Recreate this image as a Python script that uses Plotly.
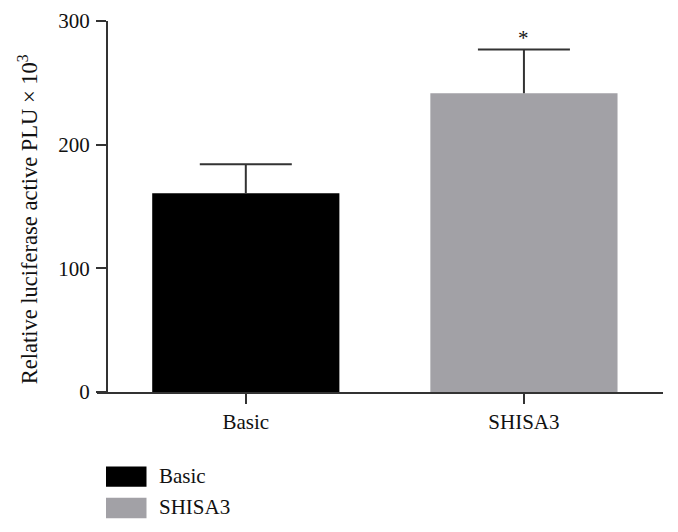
import plotly.graph_objects as go

categories = ["Basic", "SHISA3"]
values = [160.7, 241.6]
errors = [23.5, 35.3]
colors = ["#000000", "#a2a1a6"]
y_ticks = [0, 100, 200, 300]
y_title = "Relative luciferase active PLU × 10<sup>3</sup>"
significance = ["", "*"]

FONT = "Liberation Serif, Times New Roman, serif"
AX = "#333333"
TXT = "#111111"

# page has an 8px body margin, so figure coords = page coords - 8
W, H = 670, 524
L, R_EDGE, T, B_EDGE = 89, 655, 12.5, 384
PW, PH = R_EDGE - L, B_EDGE - T

tops = [v + e for v, e in zip(values, errors)]

fig = go.Figure()
# bars with the vertical error stem (no caps)
fig.add_trace(go.Bar(
    x=categories, y=values,
    marker=dict(color=colors, line=dict(width=0)),
    width=0.673,
    error_y=dict(type="data", array=errors, symmetric=False, arrayminus=[0, 0],
                 color=AX, thickness=2, width=0),
    showlegend=False, hoverinfo="skip",
))
# top caps only
fig.add_trace(go.Scatter(
    x=categories, y=tops, mode="markers", marker=dict(size=1, opacity=0),
    error_y=dict(type="data", array=[0, 0], arrayminus=[0, 0], symmetric=False,
                 color=AX, thickness=2, width=46),
    showlegend=False, hoverinfo="skip",
))

for c, t, s in zip(categories, tops, significance):
    if s:
        fig.add_annotation(x=c, y=t, text=s, showarrow=False, yanchor="bottom",
                           yshift=-2, font=dict(family=FONT, size=21, color=TXT))

# page coordinates converted to paper
def px(xp):
    return (xp - 8 - L) / PW

def py(yp):
    return (B_EDGE - (yp - 8)) / PH

# y-axis title
fig.add_annotation(xref="paper", yref="paper", x=px(28), y=py(219), text=y_title,
                   textangle=-90, showarrow=False, xanchor="center", yanchor="middle",
                   font=dict(family=FONT, size=22.5, color=TXT))

# custom legend
legend_rows = [(categories[0], colors[0]), (categories[1], colors[1])]
for i, (name, col) in enumerate(legend_rows):
    y0 = 466.7 + i * 31.3
    fig.add_shape(type="rect", xref="paper", yref="paper",
                  x0=px(106), x1=px(146.5), y0=py(y0 + 20.3), y1=py(y0),
                  fillcolor=col, line=dict(width=0))
    fig.add_annotation(xref="paper", yref="paper", x=px(157), y=py(y0 + 9),
                       text=name, showarrow=False, xanchor="left", yanchor="middle",
                       font=dict(family=FONT, size=21, color=TXT))

fig.update_layout(
    width=W, height=H,
    margin=dict(l=L, r=W - R_EDGE, t=T, b=H - B_EDGE, pad=0, autoexpand=False),
    paper_bgcolor="white", plot_bgcolor="white",
    font=dict(family=FONT, size=21, color=TXT),
    xaxis=dict(
        type="category", range=[-0.535, 1.5], automargin=False,
        showline=True, linecolor=AX, linewidth=2,
        ticks="outside", ticklen=10, tickcolor=AX, tickwidth=2,
        showgrid=False, zeroline=False,
        ticklabelstandoff=0,
        tickfont=dict(family=FONT, size=21, color=TXT),
    ),
    yaxis=dict(
        range=[0, 300], tickvals=y_ticks, anchor="free", position=10 / PW,
        automargin=False,
        showline=True, linecolor=AX, linewidth=2,
        ticks="outside", ticklen=10, tickcolor=AX, tickwidth=2,
        showgrid=False, zeroline=False,
        ticklabelstandoff=2,
        tickfont=dict(family=FONT, size=21, color=TXT),
    ),
)

fig.write_html("out.html")
